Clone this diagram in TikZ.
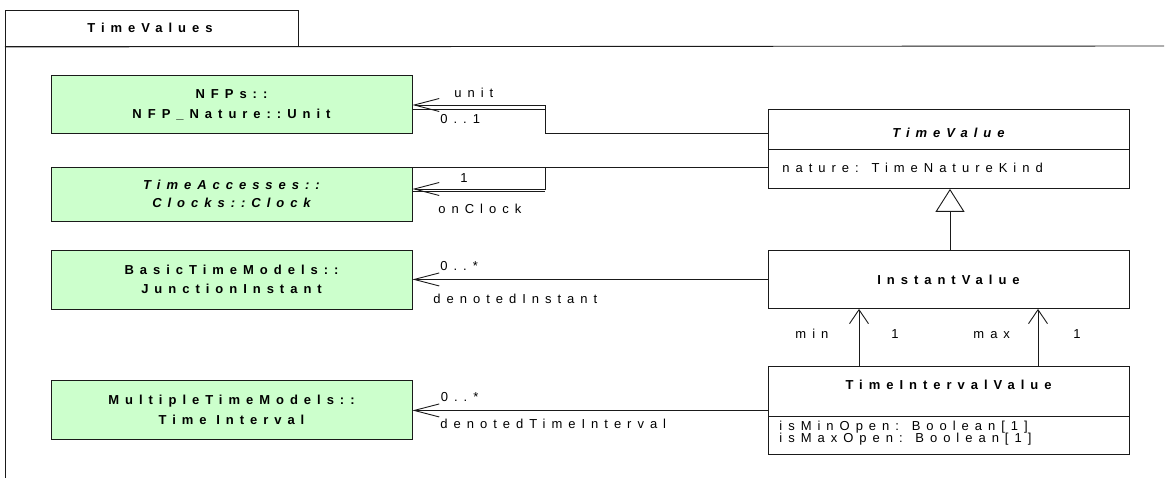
\documentclass[tikz,border=0pt]{standalone}
\usepackage{fontspec}
\setmainfont{Liberation Sans}[LetterSpace=46]
\usetikzlibrary{arrows.meta}
\definecolor{ext-green}{HTML}{CCFFCC}
\definecolor{frame-line}{HTML}{1A1A1A}

\begin{document}
\begin{tikzpicture}[x=1pt, y=-1pt, line width=0.9pt, draw=frame-line,
    every node/.style={inner sep=0pt, font=\fontsize{13}{11}\selectfont},
    extbox/.style={draw, fill=ext-green, minimum width=361pt, align=center,
      text depth=0pt, font=\bfseries\fontsize{13}{19.5}\selectfont},
    classbox/.style={draw, minimum width=361pt, anchor=north west},
    classname/.style={anchor=base, font=\bfseries\fontsize{13}{11}\selectfont},
    attr/.style={anchor=base west, align=left},
    rolelabel/.style={anchor=base west},
    assoc/.style={-{Straight Barb[length=25pt, width=13pt]}},
    navig/.style={-{Straight Barb[length=14pt, width=19pt]}},
    generalize/.style={-{Triangle[open, length=23pt, width=29pt, fill=white]}}]
    % Diagram: package TimeValues, imported classes left, value classes right.
    % Coordinates in pixels: (x, y), y grows downwards
    %   tab (5,10)-(298,46), frame line y=46, left frame line x=5
    %   green boxes x=51..412, classes x=768..1129
    \useasboundingbox (0,0) rectangle (1165,478);
    \node[draw, minimum width=293pt, minimum height=36pt, anchor=north west]
      (tab) at (5,10) {};
    \node[anchor=base, font=\bfseries\fontsize{13}{11}\selectfont]
      (tab-name) at (150,33) {TimeValues};
    \draw (tab.south west) -- (1164,46);
    \draw (tab.south west) -- (5,478);

    % imported classes
    \node[extbox, minimum height=58pt] (unit) at (231.5,104)
      {NFPs::\\NFP\_Nature::Unit};
    \node[extbox, minimum height=54pt, font=\bfseries\itshape\fontsize{13}{18.5}\selectfont]
      (clock) at (231.5,194) {TimeAccesses::\\Clocks::Clock};
    \node[extbox, minimum height=59pt] (junction) at (231.5,279.5)
      {BasicTimeModels::\\JunctionInstant};
    \node[extbox, minimum height=58.6pt] (interval) at (231.5,410)
      {MultipleTimeModels::\\Time Interval};

    % TimeValue
    \node[classbox, minimum height=79pt] (tv) at (768,109) {};
    \node[classname, font=\bfseries\itshape\fontsize{13}{11}\selectfont]
      (tv-name) at (948.5,138) {TimeValue};
    \draw (tv.west |- 0,149) -- (tv.east |- 0,149);
    \node[attr] (tv-attr) at (782,173) {nature: TimeNatureKind};

    % InstantValue
    \node[classbox, minimum height=58pt] (iv) at (768,250) {};
    \node[classname] (iv-name) at (948.5,285) {InstantValue};

    % TimeIntervalValue
    \node[classbox, minimum height=88pt] (tiv) at (768,366) {};
    \node[classname] (tiv-name) at (948.5,389) {TimeIntervalValue};
    \draw (tiv.west |- 0,416) -- (tiv.east |- 0,416);
    \node[attr] (tiv-min) at (779,430.5) {isMinOpen: Boolean[1]};
    \node[attr] (tiv-max) at (779,442.5) {isMaxOpen: Boolean[1]};

    % unit / onClock associations (folded back at x=545)
    \coordinate (unit-fold) at (545,105);
    \coordinate (clock-fold) at (545,189);
    \draw[assoc] (tv.west |- 0,133) -- (unit-fold |- 0,133) -- (unit-fold)
      -- (unit.east |- unit-fold);
    \draw (unit.east |- 0,109) -- (unit-fold |- 0,109);
    \draw[assoc] (tv.west |- 0,167) -- (clock-fold |- 0,167) -- (clock-fold)
      -- (clock.east |- clock-fold);
    \draw (clock.east |- 0,167) -- (clock-fold |- 0,167);
    \draw (clock.east |- 0,191) -- (clock-fold |- 0,191);
    \node[rolelabel] (unit-role) at (454,98) {unit};
    \node[rolelabel] (unit-mult) at (440,124) {0..1};
    \node[rolelabel] (clock-mult) at (460,182.5) {1};
    \node[rolelabel] (clock-role) at (438,214) {onClock};

    % denoted associations
    \draw[assoc] (iv.west) -- (junction.east |- iv.west);
    \node[rolelabel] (inst-mult) at (440,270.5) {0..*};
    \node[rolelabel] (inst-role) at (433,304) {denotedInstant};
    \draw[assoc] (tiv.west) -- (interval.east |- tiv.west);
    \node[rolelabel] (intv-mult) at (440.5,401) {0..*};
    \node[rolelabel] (intv-role) at (440,428) {denotedTimeInterval};

    % generalization and min / max
    \draw[generalize] (iv.north -| 950,0) -- (tv.south -| 950,0);
    \draw[navig] (tiv.north -| 859,0) -- (iv.south -| 859,0);
    \draw[navig] (tiv.north -| 1038,0) -- (iv.south -| 1038,0);
    \node[rolelabel] (min-role) at (795,339) {min};
    \node[rolelabel] (min-mult) at (891,339) {1};
    \node[rolelabel] (max-role) at (973,339) {max};
    \node[rolelabel] (max-mult) at (1073,339) {1};
\end{tikzpicture}
\end{document}
